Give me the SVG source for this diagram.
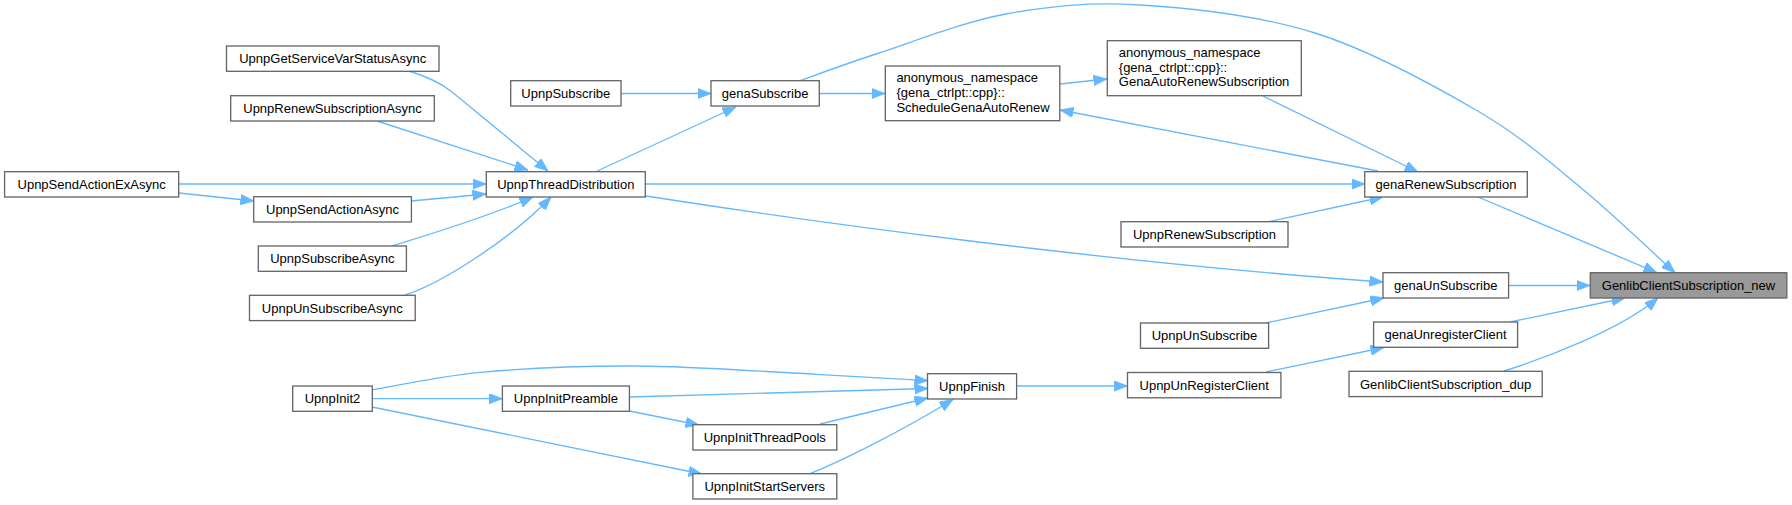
<svg xmlns="http://www.w3.org/2000/svg" width="1792" height="505" viewBox="0 0 1792 505">
<defs>
<style>
.n rect{fill:#ffffff;stroke:#666666;stroke-width:1.33}
.n.t rect{fill:#999999}
.n text{font-family:"Liberation Sans",Arial,Helvetica,sans-serif;font-size:13px;fill:#000000;text-anchor:middle}
.n text.l{text-anchor:start}
#edges path{fill:none;stroke:#63b8ff;stroke-width:1.33;marker-end:url(#ah)}
</style>
<marker id="ah" markerUnits="userSpaceOnUse" markerWidth="14" markerHeight="11" refX="13.5" refY="5.2" orient="auto">
<path d="M0,0 L13.5,5.2 L0,10.4 z" fill="#63b8ff" stroke="#63b8ff" stroke-width="0.8"/>
</marker>
</defs>
<rect width="1792" height="505" fill="#ffffff"/>
<g id="edges">
<path d="M409,71 C425,76 440,82 452,92 L548,171"/>
<path d="M377,121 L528,170"/>
<path d="M179,184 L486,184"/>
<path d="M179,193 L254,201"/>
<path d="M411,201 L486,194"/>
<path d="M392,246 C420,237 480,220 533,197"/>
<path d="M405,295 C440,284 510,240 551,197"/>
<path d="M621,93.5 L711,93.5"/>
<path d="M595,172 L736,107"/>
<path d="M819,93.5 L885,93.5"/>
<path d="M799,81 C812.3,76.3 844.5,64.2 879,53 C913.5,41.8 962.5,22 1006,14 C1049.5,6 1088.5,1.8 1140,5 C1191.5,8.2 1259,15.5 1315,33 C1371,50.5 1431.8,84.3 1476,110 C1520.2,135.7 1546.8,159.8 1580,187 C1613.2,214.2 1659.2,258.7 1675,272.7"/>
<path d="M1060,84 L1107,79"/>
<path d="M1263,96 L1418,172"/>
<path d="M1378,171 L1060,110"/>
<path d="M645,184 L1365,184"/>
<path d="M1267,222 L1383,197"/>
<path d="M1478,197 L1657,272.7"/>
<path d="M646,196 C800,220 1100,262 1383,282"/>
<path d="M1508.6,285.5 L1590,285.5"/>
<path d="M1266,323 L1384,298"/>
<path d="M1510,322 L1625,298"/>
<path d="M1504,371 C1545,358 1620,330 1658,298"/>
<path d="M1266,372 L1384,347.5"/>
<path d="M1017,386 L1127.5,386"/>
<path d="M372,390 C390.2,387 436.8,376.3 481,372.3 C525.2,368.3 581.2,365.7 637,366 C692.8,366.3 767.5,371.85 816,374.3 C864.5,376.75 909.3,379.6 928,380.7"/>
<path d="M372,398.7 L502.4,398.7"/>
<path d="M372,407 L702,474"/>
<path d="M629.4,397 L928,388.5"/>
<path d="M629.4,411 L699,425"/>
<path d="M820,424 L928,398"/>
<path d="M809,474 C840,462 900,432 953,399.5"/>
</g>
<g id="n_getservicevar" class="n"><rect x="226.5" y="46" width="212.5" height="25.3"/><text x="332.7" y="63.3">UpnpGetServiceVarStatusAsync</text></g>
<g id="n_renewsubasync" class="n"><rect x="230.7" y="95.7" width="203.6" height="25.3"/><text x="332.5" y="113">UpnpRenewSubscriptionAsync</text></g>
<g id="n_sendactionex" class="n"><rect x="4.6" y="171.7" width="174.1" height="25.3"/><text x="91.6" y="189">UpnpSendActionExAsync</text></g>
<g id="n_sendaction" class="n"><rect x="253.7" y="196.7" width="157.7" height="25.3"/><text x="332.5" y="214">UpnpSendActionAsync</text></g>
<g id="n_subscribeasync" class="n"><rect x="258.3" y="246" width="148.1" height="25.3"/><text x="332.3" y="263.3">UpnpSubscribeAsync</text></g>
<g id="n_unsubscribeasync" class="n"><rect x="249.5" y="295.3" width="165.7" height="25.3"/><text x="332.3" y="312.6">UpnpUnSubscribeAsync</text></g>
<g id="n_threaddist" class="n"><rect x="486.3" y="171.7" width="159" height="25.3"/><text x="565.8" y="189">UpnpThreadDistribution</text></g>
<g id="n_upnpsubscribe" class="n"><rect x="510.7" y="80.7" width="110.3" height="25.3"/><text x="565.8" y="98">UpnpSubscribe</text></g>
<g id="n_genasubscribe" class="n"><rect x="711" y="80.7" width="108.3" height="25.3"/><text x="765.1" y="98">genaSubscribe</text></g>
<g id="n_schedule" class="n"><rect x="885.3" y="66" width="174.5" height="54.7"/><text class="l" x="896.4" y="82.4">anonymous_namespace<tspan x="896.4" dy="14.65">{gena_ctrlpt::cpp}::</tspan><tspan x="896.4" dy="14.65">ScheduleGenaAutoRenew</tspan></text></g>
<g id="n_genaautorenew" class="n"><rect x="1107.3" y="40.7" width="194" height="55"/><text class="l" x="1118.8" y="57">anonymous_namespace<tspan x="1118.8" dy="14.65">{gena_ctrlpt::cpp}::</tspan><tspan x="1118.8" dy="14.65">GenaAutoRenewSubscription</tspan></text></g>
<g id="n_genarenew" class="n"><rect x="1364.7" y="171.7" width="162.6" height="25.3"/><text x="1446" y="189">genaRenewSubscription</text></g>
<g id="n_upnprenew" class="n"><rect x="1121" y="221.7" width="167" height="25.3"/><text x="1204.5" y="239">UpnpRenewSubscription</text></g>
<g id="n_genaunsub" class="n"><rect x="1383" y="272.7" width="125.6" height="25.3"/><text x="1445.8" y="290">genaUnSubscribe</text></g>
<g id="n_genlibnew" class="n t"><rect x="1590.3" y="272.7" width="196.5" height="25.3"/><text x="1688.5" y="290">GenlibClientSubscription_new</text></g>
<g id="n_upnpunsub" class="n"><rect x="1140.5" y="323" width="128.1" height="25.3"/><text x="1204.5" y="340.3">UpnpUnSubscribe</text></g>
<g id="n_genaunreg" class="n"><rect x="1373.6" y="322" width="144" height="25.3"/><text x="1445.6" y="339.3">genaUnregisterClient</text></g>
<g id="n_upnpunreg" class="n"><rect x="1127.5" y="372.5" width="153.4" height="25.3"/><text x="1204.2" y="389.8">UpnpUnRegisterClient</text></g>
<g id="n_genlibdup" class="n"><rect x="1349" y="371.3" width="193.2" height="25.3"/><text x="1445.6" y="388.6">GenlibClientSubscription_dup</text></g>
<g id="n_finish" class="n"><rect x="927.5" y="373.7" width="89.1" height="25.3"/><text x="972" y="391">UpnpFinish</text></g>
<g id="n_init2" class="n"><rect x="292.7" y="386" width="79.6" height="25.3"/><text x="332.5" y="403.3">UpnpInit2</text></g>
<g id="n_initpreamble" class="n"><rect x="502.4" y="386" width="127" height="25.3"/><text x="565.9" y="403.3">UpnpInitPreamble</text></g>
<g id="n_initthreadpools" class="n"><rect x="692.9" y="424.7" width="143.9" height="25.3"/><text x="764.8" y="442">UpnpInitThreadPools</text></g>
<g id="n_initstartservers" class="n"><rect x="692.9" y="473.7" width="143.9" height="25.3"/><text x="764.8" y="491">UpnpInitStartServers</text></g>
</svg>
